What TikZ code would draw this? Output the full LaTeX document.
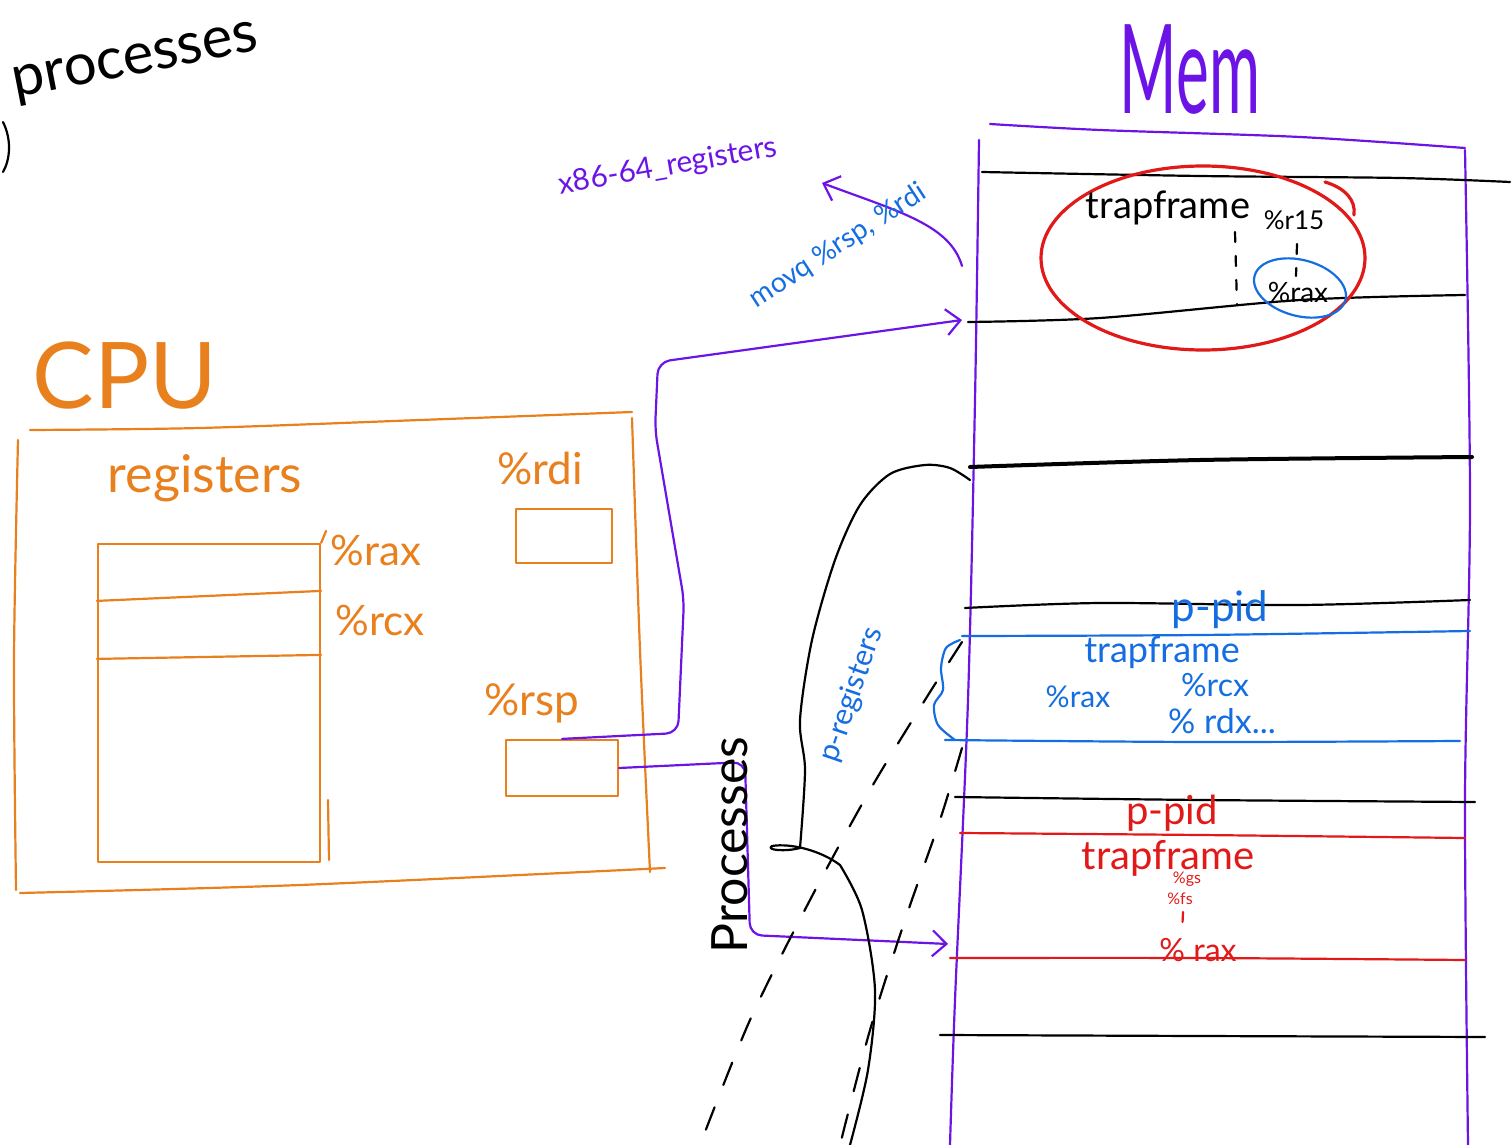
\documentclass[tikz,border=0pt]{standalone}
\usepackage{fontspec}
\setmainfont{Lato}
\usetikzlibrary{positioning,arrows.meta}
\definecolor{cpuorange}{RGB}{232,128,30}
\definecolor{mempurple}{RGB}{108,20,230}
\definecolor{regblue}{RGB}{20,110,225}
\definecolor{tfred}{RGB}{225,25,25}
\newcommand{\fs}[1]{\fontsize{#1}{#1}\selectfont}

\begin{document}
\begin{tikzpicture}[x=0.5pt, y=-0.5pt, line cap=round, line join=round,
  pen/.style={line width=1.1pt},
  wire/.style={pen, mempurple, rounded corners=6pt, -{Straight Barb[length=7pt,width=13pt]}},
  regbox/.style={draw=cpuorange, pen, inner sep=0pt},
  dots/.style={pen, dash pattern=on 5pt off 7pt}]
\useasboundingbox (0,0) rectangle (1512,1145);

% title, left over from the page above
\node[rotate=11, font=\fs{29}] (title) at (136,64) {processes};
\draw[pen] (3,122) .. controls (12,140) and (10,160) .. (3,172);

% ---- CPU ----
\node[cpuorange, font=\fs{46}] (cpulabel) at (125,376) {CPU};
\draw[pen, cpuorange] plot[smooth] coordinates {(30,430) (200,428) (420,420) (632,412)};
\draw[pen, cpuorange] plot[smooth] coordinates {(18,440) (14,660) (16,890)};
\draw[pen, cpuorange] plot[smooth] coordinates {(20,893) (300,885) (665,868)};
\draw[pen, cpuorange] plot[smooth] coordinates {(632,418) (640,650) (650,872)};

\node[cpuorange, font=\fs{26}] (reglabel) at (205,478) {registers};
\node[regbox, minimum width=111pt, minimum height=159pt] (regfile) at (209,703) {};
\draw[pen, cpuorange] ([yshift=-29pt]regfile.north west) -- ([yshift=-24pt]regfile.north east);
\draw[pen, cpuorange] ([yshift=-58pt]regfile.north west) -- ([yshift=-56pt]regfile.north east);
\draw[pen, cpuorange] (regfile.north east) -- ++(5,-12);
\draw[pen, cpuorange] (328,800) -- (329,860);
\node[cpuorange, font=\fs{21}] (raxlabel) at (376,550) {\%rax};
\node[cpuorange, font=\fs{21}] (rcxlabel) at (380,620) {\%rcx};

\node[cpuorange, font=\fs{22}] (rdilabel) at (540,468) {\%rdi};
\node[regbox, minimum width=48pt, minimum height=27pt] (rdibox) at (564,536) {};
\node[cpuorange, font=\fs{22}] (rsplabel) at (532,703) {\%rsp};
\node[regbox, minimum width=56pt, minimum height=28pt] (rspbox) at (562,768) {};

% ---- memory ----
\node[mempurple, font=\fs{62}] (memlabel) at (1190,70) {\scalebox{0.5}[1]{Mem}};
\draw[pen, mempurple] plot[smooth] coordinates {(990,124) (1100,130) (1300,137) (1465,148)};
\draw[pen, mempurple] plot[smooth] coordinates {(979,140) (975,400) (968,700) (955,1000) (950,1145)};
\draw[pen, mempurple] plot[smooth] coordinates {(1465,150) (1470,500) (1465,800) (1468,1145)};

\draw[pen] plot[smooth] coordinates {(982,172) (1200,176) (1400,178) (1510,182)};
\draw[pen] plot[smooth] coordinates {(968,322) (1100,318) (1300,300) (1465,295)};
\draw[line width=2pt] plot[smooth] coordinates {(970,467) (1200,460) (1472,457)};
\draw[pen] plot[smooth] coordinates {(965,608) (1100,603) (1300,605) (1470,600)};
\draw[pen, regblue] plot[smooth] coordinates {(962,636) (1200,635) (1470,631)};
\draw[pen, regblue] plot[smooth] coordinates {(945,740) (1200,742) (1460,741)};
\draw[pen] plot[smooth] coordinates {(955,797) (1200,800) (1475,802)};
\draw[pen, tfred] plot[smooth] coordinates {(960,833) (1200,835) (1465,838)};
\draw[pen, tfred] plot[smooth] coordinates {(950,958) (1200,958) (1465,960)};
\draw[pen] plot[smooth] coordinates {(940,1035) (1200,1036) (1485,1037)};

\coordinate (kstack) at (962,320);
\coordinate (procslot) at (948,944);
\coordinate (savecurl) at (962,266);

% saved trapframe in the kernel stack
\draw[tfred, line width=1.6pt] (1203,258) ellipse [x radius=162, y radius=92];
\draw[tfred, line width=1.6pt] (1325,182) .. controls (1345,188) and (1356,200) .. (1354,215);
\node[font=\fs{19}] (tfkernel) at (1168,208) {trapframe};
\node[font=\fs{13}] (r15) at (1294,220) {\%r15};
\draw[dots] (1235,232) -- (1237,305);
\draw[dots] (1297,244) -- (1296,276);
\node[font=\fs{14}] (raxsaved) at (1298,292) {\%rax};
\draw[pen, regblue, rotate around={-15:(1300,288)}] (1300,288) ellipse [x radius=47, y radius=28];

% blue process slot
\node[regblue, font=\fs{21}] (pidblue) at (1220,610) {p-pid};
\node[regblue, font=\fs{18}] (tfblue) at (1162,652) {trapframe};
\node[regblue, font=\fs{16}] (rcxblue) at (1215,685) {\%rcx};
\node[regblue, font=\fs{15}] (raxblue) at (1078,697) {\%rax};
\node[regblue, font=\fs{17}] (rdxblue) at (1222,721) {\% rdx...};
\draw[pen, regblue] plot[smooth] coordinates {(960,640) (946,648) (941,668) (943,690) (934,705) (938,725) (955,740)};

% red process slot
\node[tfred, font=\fs{20}] (pidred) at (1172,813) {p-pid};
\node[tfred, font=\fs{20}] (tfred) at (1168,858) {trapframe};
\node[tfred, font=\fs{8}] (gsred) at (1187,879) {\%gs};
\node[tfred, font=\fs{8}] (fsred) at (1180,899) {\%fs};
\draw[dots, tfred] (1183,912) -- (1182,935);
\node[tfred, font=\fs{16}] (raxred) at (1198,950) {\% rax};

% ---- connectors ----
\draw[wire] (rspbox.north) -- (678,733) -- (684,600) -- (655,430) -- (658,362) -- (kstack);
\draw[wire] (rspbox.east) -- (745,762) -- (750,935) -- (procslot);
\draw[pen, mempurple, -{Straight Barb[length=7pt,width=13pt]}] (savecurl) .. controls (950,225) and (900,212) .. (822,183);
\node[mempurple, rotate=10, font=\fs{15}] (x86label) at (668,167) {x86-64\_registers};
\node[regblue, rotate=33, font=\fs{14}] (movq) at (838,246) {movq \%rsp, \%rdi};

% process list bulge
\draw[pen] plot[smooth] coordinates {(970,480) (950,468) (925,465) (890,474) (860,505) (835,560) (812,640) (800,720) (805,770) (800,848)};
\draw[pen] (800,848) .. controls (785,852) and (765,850) .. (772,846) .. controls (790,843) and (820,850) .. (840,865);
\draw[pen] plot[smooth] coordinates {(840,865) (862,910) (875,990) (868,1070) (850,1145)};
\draw[pen, dash pattern=on 12pt off 12pt] plot[smooth] coordinates {(962,642) (925,700) (870,790) (810,900) (750,1020) (700,1145)};
\draw[pen, dash pattern=on 12pt off 12pt] plot[smooth] coordinates {(962,748) (940,820) (905,920) (870,1030) (840,1145)};

\node[rotate=90, font=\fs{25}] (proclabel) at (730,845) {Processes};
\node[regblue, rotate=71, font=\fs{15}] (pregs) at (852,695) {p-registers};
\end{tikzpicture}
\end{document}
